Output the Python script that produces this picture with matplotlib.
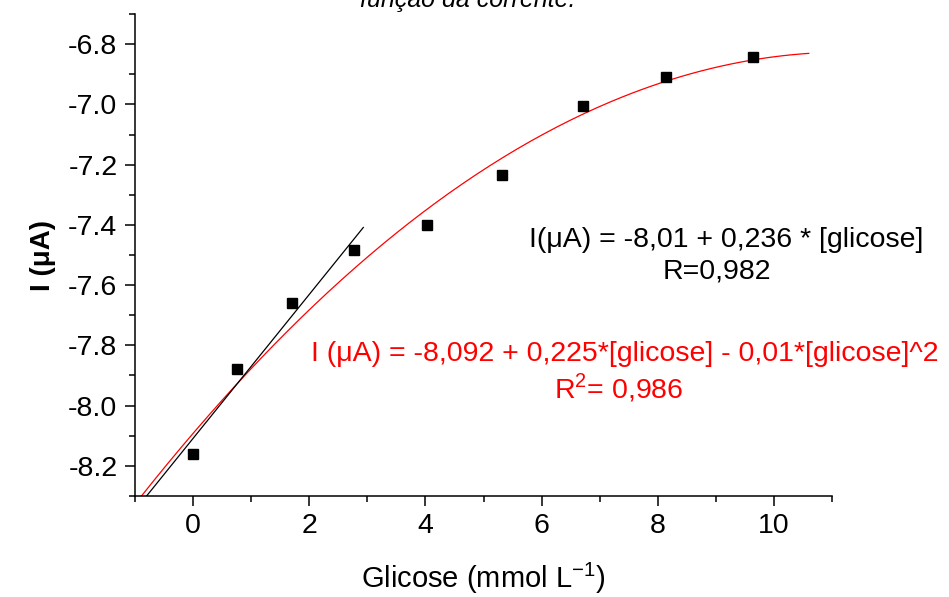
import numpy as np
import matplotlib
matplotlib.use('Agg')
import matplotlib.pyplot as plt
from matplotlib.ticker import MultipleLocator

plt.rcParams['font.family'] = ['Liberation Sans', 'DejaVu Sans']
plt.rcParams['axes.unicode_minus'] = False

# dados
glicose = [0, 0.75, 1.71, 2.77, 4.03, 5.32, 6.71, 8.15, 9.64]
corrente = [-8.16, -7.88, -7.66, -7.485, -7.40, -7.235, -7.005, -6.908, -6.843]

# ajuste polinomial (coeficientes da legenda)
poly_coef = [-8.092, 0.225, -0.01]
poly_range = [-0.9, 10.6]
# ajuste linear nos 4 primeiros pontos
lin_range = [-0.8, 2.93]
n_lin = 4

fig = plt.figure(figsize=(9.49, 5.97), dpi=100)
ax = fig.add_axes([0.1423, 0.1692, 0.7344, 0.8073])

# curva vermelha
xp = np.linspace(poly_range[0], poly_range[1], 200)
yp = poly_coef[0] + poly_coef[1] * xp + poly_coef[2] * xp ** 2
ax.plot(xp, yp, color='red', lw=0.9)

# reta preta
b, a = np.polyfit(glicose[:n_lin], corrente[:n_lin], 1)
xl = np.array(lin_range)
ax.plot(xl, a + b * xl, color='black', lw=0.9)

ax.plot(glicose, corrente, 's', color='black', markersize=7)

ax.set_xlim(-1, 11)
ax.set_ylim(-8.3, -6.7)
ax.xaxis.set_major_locator(MultipleLocator(2))
ax.xaxis.set_minor_locator(MultipleLocator(1))
ax.yaxis.set_major_locator(MultipleLocator(0.2))
ax.yaxis.set_minor_locator(MultipleLocator(0.1))

for s in ['top', 'right']:
    ax.spines[s].set_visible(False)
for s in ['left', 'bottom']:
    ax.spines[s].set_linewidth(1.1)

ax.tick_params(which='major', direction='out', length=7.2, width=1.1, labelsize=20.5)
ax.tick_params(which='minor', direction='out', length=4.2, width=1.1)
ax.tick_params(axis='y', pad=5.5)
ax.tick_params(axis='x', pad=5)

ax.set_xlabel('Glicose (mmol L$^{\\mathregular{-1}}$)', fontsize=21, labelpad=16)
ax.set_ylabel('I (μA)', fontsize=20, fontweight='bold', labelpad=9)

ax.text(0.848, 0.531, 'I(μA) = -8,01 + 0,236 * [glicose]', transform=ax.transAxes,
        ha='center', va='center', fontsize=20.5, color='black')
ax.text(0.835, 0.465, 'R=0,982', transform=ax.transAxes,
        ha='center', va='center', fontsize=20.5, color='black')
ax.text(0.702, 0.295, 'I (μA) = -8,092 + 0,225*[glicose] - 0,01*[glicose]^2',
        transform=ax.transAxes, ha='center', va='center', fontsize=20.5, color='red')
ax.text(0.694, 0.224, 'R$^{\\mathregular{2}}$= 0,986', transform=ax.transAxes,
        ha='center', va='center', fontsize=20.5, color='red')

fig.text(0.493, 1.0, 'função da corrente.', ha='center', va='center',
         fontsize=18, style='italic')

fig.savefig('out.png', dpi=100)
